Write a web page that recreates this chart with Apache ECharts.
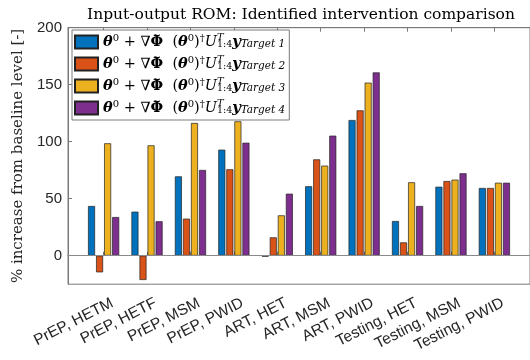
<!DOCTYPE html>
<html>
<head>
<meta charset="utf-8">
<script src="https://cdn.jsdelivr.net/npm/echarts@6/dist/echarts.min.js"></script>
<style>
  html, body { margin: 0; padding: 0; background: #fff; }
  #chart { width: 530px; height: 360px; }
</style>
</head>
<body>
<div id="chart"></div>
<script>
  // categories along x
  var categories = ['PrEP, HETM', 'PrEP, HETF', 'PrEP, MSM', 'PrEP, PWID', 'ART, HET',
    'ART, MSM', 'ART, PWID', 'Testing, HET', 'Testing, MSM', 'Testing, PWID'];
  var targetNames = ['Target 1', 'Target 2', 'Target 3', 'Target 4'];
  // % increase from baseline
  var target1 = [43.6, 38.6, 69.6, 93.0, -0.8, 60.9, 119.0, 30.4, 60.5, 59.4];
  var target2 = [-14.6, -21.3, 32.5, 75.8, 16.1, 84.5, 127.5, 11.7, 65.5, 59.4];
  var target3 = [98.6, 96.8, 116.4, 117.9, 35.4, 79.0, 151.8, 64.4, 66.7, 64.0];
  var target4 = [33.9, 30.2, 75.2, 99.1, 54.4, 105.3, 160.8, 43.6, 72.3, 64.0];
  var yTicks = [0, 50, 100, 150, 200];

  var colors = ['#0072BD', '#D95319', '#EDB120', '#7E2F8E'];
  var allData = [target1, target2, target3, target4];
  var xPos = categories.map(function (c, i) { return i + 1; });
  // rotated labels sit a little right of their tick, like matlab does
  var labelPos = xPos.map(function (x) { return x + 0.2; });

  var serif = 'DejaVu Serif';
  var axisGray = '#7a7a7a';

  var rich = {
    r: { fontFamily: serif, fontSize: 14.5, lineHeight: 18, color: '#000' },
    b: { fontFamily: serif, fontSize: 14.5, lineHeight: 18, fontWeight: 'bold', fontStyle: 'italic', color: '#000' },
    bp: { fontFamily: serif, fontSize: 14.5, lineHeight: 18, fontWeight: 'bold', color: '#000' },
    tl: { fontFamily: serif, fontSize: 10, lineHeight: 18, color: '#000', padding: [0, 0, 14, 0], width: 0 },
    i: { fontFamily: serif, fontSize: 14.5, lineHeight: 18, fontStyle: 'italic', color: '#000' },
    sup: { fontFamily: serif, fontSize: 10, lineHeight: 18, color: '#000', padding: [0, 0, 8, 0] },
    supT: { fontFamily: serif, fontSize: 10, lineHeight: 18, fontStyle: 'italic', color: '#000', padding: [0, 0, 9, 0], width: 0 },
    sub: { fontFamily: serif, fontSize: 9.5, lineHeight: 18, color: '#000', padding: [6, 0, 0, 0] },
    subi: { fontFamily: serif, fontSize: 10.5, lineHeight: 18, fontStyle: 'italic', color: '#000', padding: [5, 0, 0, 0] }
  };

  var series = targetNames.map(function (name, k) {
    var s = {
      name: name,
      type: 'bar',
      barWidth: 7,
      barGap: '15%',
      itemStyle: {
        color: colors[k],
        borderColor: '#222',
        borderWidth: 0.7
      },
      data: allData[k].map(function (v, i) { return [xPos[i], v]; })
    };
    if (k === 0) {
      // baseline at zero
      s.markLine = {
        silent: true,
        symbol: 'none',
        label: { show: false },
        lineStyle: { color: '#8a8a8a', width: 1, type: 'solid' },
        data: [{ yAxis: 0 }]
      };
    }
    return s;
  });

  var options = {
    backgroundColor: '#fff',
    animation: false,
    title: {
      text: 'Input-output ROM: Identified intervention comparison',
      left: 296,
      top: 2,
      textAlign: 'center',
      textStyle: { fontFamily: serif, fontSize: 15.5, fontWeight: 'normal', color: '#000' }
    },
    grid: {
      left: 68,
      right: -6,
      top: 27.7,
      bottom: 75.8,
      show: true,
      borderColor: axisGray,
      borderWidth: 1
    },
    legend: {
      orient: 'vertical',
      left: 72,
      top: 30,
      itemWidth: 23,
      itemHeight: 13,
      itemGap: -2,
      padding: [0, 4, 0, 2],
      backgroundColor: '#fff',
      borderColor: axisGray,
      borderWidth: 1,
      borderRadius: 0,
      icon: 'rect',
      data: targetNames,
      formatter: function (name) {
        return '{b|θ}{sup|0}{r| + ∇}{tl|\u2009∼}{bp|Φ}{r|  (}{b|θ}{sup|0}{r|)}{sup|†}{i|U}{supT|T}{sub|1:4}{b|y}{subi|' + name + '}';
      },
      textStyle: { rich: rich }
    },
    xAxis: [{
      type: 'value',
      min: 0.18,
      max: 10.82,
      splitLine: { show: false },
      axisLine: { lineStyle: { color: axisGray } },
      axisTick: { inside: true, length: 4, customValues: xPos, lineStyle: { color: axisGray } },
      axisLabel: {
        customValues: labelPos,
        rotate: 27,
        margin: 18,
        fontFamily: 'Liberation Sans',
        fontSize: 15.5,
        color: '#262626',
        formatter: function (v) { return categories[Math.round(v) - 1]; }
      }
    }, {
      type: 'value',
      position: 'top',
      min: 0.18,
      max: 10.82,
      splitLine: { show: false },
      axisLine: { lineStyle: { color: axisGray } },
      axisTick: { inside: true, length: 4, customValues: xPos, lineStyle: { color: axisGray } },
      axisLabel: { show: false }
    }],
    yAxis: {
      type: 'value',
      min: -25,
      max: 200,
      name: '% increase from baseline level [-]',
      nameLocation: 'middle',
      nameGap: 39,
      nameTextStyle: { fontFamily: serif, fontSize: 15, color: '#262626' },
      splitLine: { show: false },
      axisLine: { show: true, lineStyle: { color: axisGray } },
      axisTick: { show: true, inside: true, length: 4, customValues: yTicks, lineStyle: { color: axisGray } },
      axisLabel: {
        customValues: yTicks,
        margin: 6,
        fontFamily: 'Liberation Sans',
        fontSize: 15,
        color: '#262626'
      }
    },
    series: series
  };

  var myEcharts = echarts.init(document.getElementById('chart'));
  myEcharts.setOption(options, true);
  window.addEventListener('resize', function () {
    myEcharts.resize();
  });
</script>
</body>
</html>
